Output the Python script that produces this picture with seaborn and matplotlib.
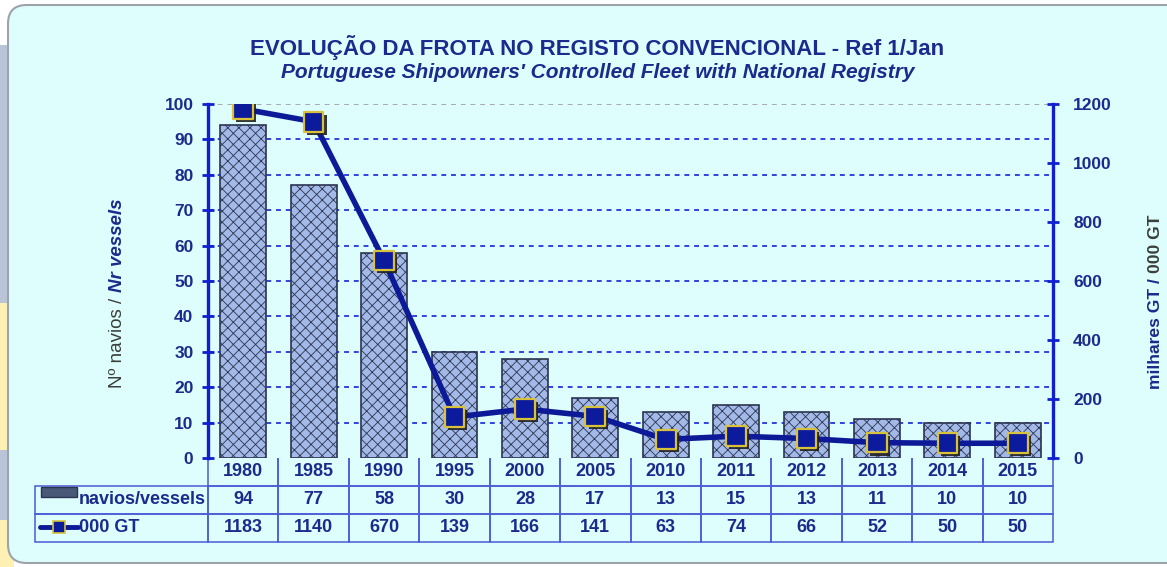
import numpy as np
import pandas as pd
import seaborn as sns
import matplotlib.pyplot as plt
import matplotlib.patheffects as pe
from matplotlib.patches import FancyBboxPatch, Rectangle
from matplotlib.table import Table
from matplotlib.lines import Line2D

# data
years = ['1980', '1985', '1990', '1995', '2000', '2005', '2010', '2011', '2012', '2013', '2014', '2015']
vessels = [94, 77, 58, 30, 28, 17, 13, 15, 13, 11, 10, 10]
gt = [1183, 1140, 670, 139, 166, 141, 63, 74, 66, 52, 50, 50]

df = pd.DataFrame({'year': years, 'vessels': vessels, 'gt': gt})
df['pos'] = np.arange(len(df))

sns.set_style("white")
plt.rcParams['font.family'] = ['Liberation Sans', 'DejaVu Sans']
plt.rcParams['hatch.linewidth'] = 0.6

navy = '#1B2A8C'
blue = '#1020D0'
W, H = 1167, 567

fig = plt.figure(figsize=(W / 100, H / 100), dpi=100)
fig.patch.set_facecolor('white')

# outer strip + rounded panel
for y0, y1, col in [(45, 303, '#B9C4D6'), (303, 450, '#FFF0B4'), (450, 520, '#B9C4D6'), (520, 567, '#FFF0B4')]:
    fig.patches.append(Rectangle((0, 1 - y1 / H), 14 / W, (y1 - y0) / H, transform=fig.transFigure,
                                 facecolor=col, edgecolor='none', zorder=-3))
fig.patches.append(FancyBboxPatch((8 / W, 1 - 563 / H), 1180 / W, 558 / H,
                                  boxstyle='round,pad=0,rounding_size=0.016',
                                  mutation_aspect=W / H, transform=fig.transFigure,
                                  facecolor='#DEFDFD', edgecolor='#9CA3AC', lw=1.5, zorder=-2))

ax = fig.add_axes([208 / W, 1 - 458 / H, 845 / W, 354 / H])
ax.patch.set_visible(False)

sns.barplot(data=df, x='pos', y='vessels', color='#A3B9E8', saturation=1,
            width=0.65, edgecolor='#2B3450', linewidth=1.2, hatch='xxx', ax=ax, zorder=2)

ax.set_xlim(-0.5, len(years) - 0.5)
ax.set_ylim(0, 100)
ax.set_yticks(range(0, 101, 10))
ax.set_xlabel('')
ax.set_ylabel('')
ax.set_axisbelow(True)
ax.yaxis.grid(True, color='#3242E0', lw=1.4, ls=(0, (2.5, 2.5)))
gls = ax.get_ygridlines()
gls[-1].set_color('#A8A8B0')
gls[0].set_visible(False)
for s in ['top', 'bottom', 'right']:
    ax.spines[s].set_visible(False)
ax.spines['left'].set_color(blue)
ax.spines['left'].set_linewidth(2.4)
ax.tick_params(axis='x', bottom=False, labelbottom=False)
ax.tick_params(axis='y', direction='inout', length=9, width=2, color=blue, pad=6,
               labelsize=12.5, labelcolor=navy)
for t in ax.get_yticklabels():
    t.set_fontweight('bold')

# GT line on right axis
ax2 = ax.twinx()
sns.lineplot(data=df, x='pos', y='gt', color='#0C1A98', lw=4, ax=ax2, zorder=3)
sns.scatterplot(data=df, x='pos', y='gt', marker='s', s=200, color='#0C1A9C',
                edgecolor='#D8C23C', linewidth=1.6, ax=ax2, zorder=4,
                path_effects=[pe.SimplePatchShadow(offset=(2.2, -2.2), shadow_rgbFace='#202020', alpha=0.9),
                              pe.Normal()])
ax2.set_ylim(0, 1200)
ax2.set_yticks(range(0, 1201, 200))
ax2.set_xlim(-0.5, len(years) - 0.5)
ax2.set_xlabel('')
ax2.set_ylabel('')
for s in ['top', 'bottom', 'left']:
    ax2.spines[s].set_visible(False)
ax2.spines['right'].set_color(blue)
ax2.spines['right'].set_linewidth(2.4)
ax2.tick_params(axis='y', direction='inout', length=9, width=2, color=blue, pad=10,
                labelsize=12.5, labelcolor=navy)
ax2.tick_params(axis='x', bottom=False, labelbottom=False)
for t in ax2.get_yticklabels():
    t.set_fontweight('bold')

# titles
fig.text(597 / W, 1 - 47 / H, 'EVOLUÇÃO DA FROTA NO REGISTO CONVENCIONAL - Ref 1/Jan',
         ha='center', va='center', fontsize=16, fontweight='bold', color=navy)
fig.text(598 / W, 1 - 72 / H, "Portuguese Shipowners' Controlled Fleet with National Registry",
         ha='center', va='center', fontsize=15, fontweight='bold', fontstyle='italic', color=navy)

# axis labels (mixed styles)
fig.text(118 / W, 1 - 292 / H, 'Nº navios / ', rotation=90, ha='center', va='top',
         fontsize=13.5, color='#3A3F3A')
fig.text(118 / W, 1 - 292 / H, 'Nr vessels', rotation=90, ha='center', va='bottom',
         fontsize=13.5, color=navy, fontweight='bold', fontstyle='italic')
fig.text(1156 / W, 1 - 273 / H, 'milhares GT / ', rotation=90, ha='center', va='top',
         fontsize=12.6, color=navy, fontweight='bold')
fig.text(1156 / W, 1 - 273 / H, '000 GT', rotation=90, ha='center', va='bottom',
         fontsize=12.6, color='#3A3F3A', fontweight='bold')

# data table under the chart
ax_w, ax_h = 845, 354
tab = Table(ax, bbox=[(35 - 208) / ax_w, -84 / ax_h, (1053 - 35) / ax_w, 84 / ax_h])
label_w = 173
col_w = 845 / len(years)
rows = [[''] + years,
        ['navios/vessels'] + [str(v) for v in vessels],
        ['000 GT'] + [str(v) for v in gt]]
for r, row in enumerate(rows):
    for c, txt in enumerate(row):
        w = label_w if c == 0 else col_w
        cell = tab.add_cell(r, c, width=w, height=1, text=txt,
                            loc='left' if c == 0 else 'center',
                            facecolor='none', edgecolor='#4B5BD8')
        cell.set_linewidth(1.1)
        cell.get_text().set_fontweight('bold')
        cell.get_text().set_color(navy)
        if c == 0:
            cell.PAD = 0.255
        if r == 0:
            cell.visible_edges = '' if c == 0 else 'LRB'
tab.auto_set_font_size(False)
tab.set_fontsize(13)
ax.add_table(tab)

# legend swatches in the table
fig.patches.append(Rectangle((41 / W, 1 - 497 / H), 36 / W, 10 / H, transform=fig.transFigure,
                             facecolor='#4A5878', edgecolor='#2B3450', lw=1))
fig.lines.append(Line2D([40 / W, 78 / W], [1 - 527 / H, 1 - 527 / H], transform=fig.transFigure,
                        color='#0C1A98', lw=3.5))
fig.lines.append(Line2D([59 / W], [1 - 527 / H], transform=fig.transFigure, ls='none',
                        marker='s', ms=9, mfc='#0C1A9C', mec='#D8C23C', mew=1.2))

fig.savefig('out.png', dpi=100, facecolor=fig.get_facecolor())
